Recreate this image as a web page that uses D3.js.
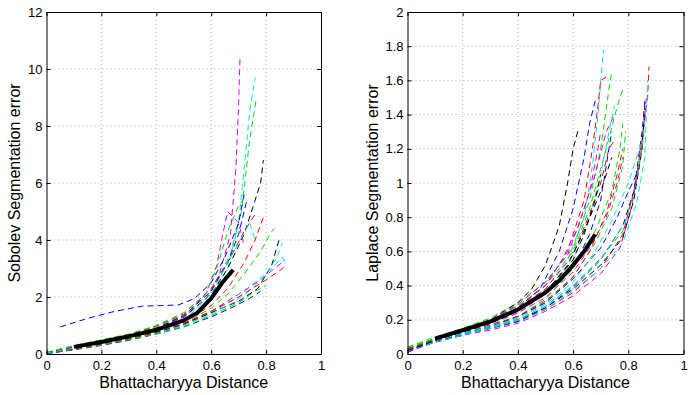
<!DOCTYPE html>
<html>
<head>
<meta charset="utf-8">
<script src="https://cdn.jsdelivr.net/npm/d3@7"></script>
<style>
  body { margin: 0; background: #fff; }
  text { font-family: "Liberation Sans", Arial, sans-serif; fill: #000; }
</style>
</head>
<body>
<div id="chart"></div>
<script>
// MATLAB-ish line colours, one letter per run
const palette = {b: "#0000ff", g: "#00dd00", r: "#ff0000", c: "#00e5e5", m: "#e000e0", k: "#000000"};

const xTicks = [0, 0.2, 0.4, 0.6, 0.8, 1];
const sobolevTicks = [0, 2, 4, 6, 8, 10, 12];
const laplaceTicks = [0, 0.2, 0.4, 0.6, 0.8, 1, 1.2, 1.4, 1.6, 1.8, 2];

// Sobolev runs: [x, y] pairs
const sobolevColors = ["m","c","g","k","b","r","m","g","c","g","m","k","c","b","r","g","r","b","c"];
const sobolevRuns = [
  [[0,0.03],[0.1,0.22],[0.2,0.42],[0.3,0.63],[0.4,0.9],[0.5,1.3],[0.58,1.9],[0.63,2.8],[0.67,4.2],[0.69,6.5],[0.7,8.8],[0.705,10.4]],
  [[0,0.02],[0.1,0.2],[0.2,0.38],[0.3,0.58],[0.4,0.82],[0.5,1.2],[0.6,2.0],[0.66,3.0],[0.7,4.6],[0.72,6.5],[0.74,8.5],[0.76,9.7]],
  [[0,0.05],[0.1,0.28],[0.2,0.48],[0.3,0.68],[0.4,0.95],[0.5,1.35],[0.6,2.2],[0.67,3.5],[0.71,5],[0.74,7.5],[0.765,9.0]],
  [[0,0.02],[0.1,0.24],[0.2,0.44],[0.3,0.64],[0.4,0.9],[0.5,1.3],[0.6,2.1],[0.66,3.0],[0.72,4.2],[0.76,5.4],[0.78,6.0],[0.79,6.8]],
  [[0.05,0.95],[0.15,1.25],[0.25,1.5],[0.35,1.68],[0.42,1.7],[0.48,1.72],[0.54,1.95],[0.6,2.5],[0.65,3.4],[0.7,4.6],[0.72,5.6]],
  [[0,0.04],[0.1,0.25],[0.2,0.45],[0.3,0.68],[0.4,0.98],[0.5,1.4],[0.6,2.3],[0.66,3.2],[0.72,4.3],[0.76,4.9]],
  [[0,0.03],[0.1,0.23],[0.2,0.42],[0.3,0.62],[0.4,0.88],[0.5,1.3],[0.58,2.1],[0.62,3.1],[0.64,4.1],[0.66,5.0],[0.7,4.6],[0.72,3.8]],
  [[0,0.06],[0.1,0.3],[0.2,0.5],[0.3,0.7],[0.4,1.0],[0.5,1.45],[0.58,2.1],[0.62,3.0],[0.66,4.3],[0.7,5.2],[0.73,5.6]],
  [[0,0.01],[0.1,0.15],[0.2,0.32],[0.3,0.5],[0.4,0.72],[0.5,1.0],[0.6,1.45],[0.7,2.0],[0.77,2.6],[0.82,3.0],[0.86,3.4],[0.87,3.1]],
  [[0,0.02],[0.1,0.18],[0.2,0.36],[0.3,0.55],[0.4,0.78],[0.5,1.1],[0.6,1.6],[0.66,2.1],[0.72,2.8],[0.78,3.6],[0.82,4.3],[0.83,4.4]],
  [[0,0.01],[0.1,0.16],[0.2,0.34],[0.3,0.52],[0.4,0.75],[0.5,1.05],[0.6,1.5],[0.7,2.1],[0.78,2.6],[0.83,3.0],[0.87,3.3]],
  [[0,0.02],[0.1,0.17],[0.2,0.35],[0.3,0.53],[0.4,0.76],[0.5,1.05],[0.6,1.45],[0.7,1.85],[0.77,2.3],[0.82,3.1],[0.85,4.1]],
  [[0,0.02],[0.1,0.16],[0.2,0.33],[0.3,0.5],[0.4,0.72],[0.5,1.0],[0.6,1.4],[0.68,1.8],[0.75,2.3],[0.8,2.8],[0.84,3.4],[0.86,3.9]],
  [[0,0.02],[0.1,0.15],[0.2,0.3],[0.3,0.48],[0.4,0.7],[0.5,0.95],[0.6,1.3],[0.68,1.65],[0.74,1.95],[0.78,2.2]],
  [[0,0.03],[0.1,0.2],[0.2,0.38],[0.3,0.58],[0.4,0.82],[0.5,1.15],[0.6,1.7],[0.66,2.3],[0.72,3.2],[0.76,4.0],[0.79,4.8]],
  [[0,0.02],[0.1,0.16],[0.2,0.32],[0.3,0.5],[0.4,0.7],[0.5,0.95],[0.6,1.35],[0.7,1.8],[0.76,2.2],[0.8,2.4]],
  [[0,0.02],[0.1,0.17],[0.2,0.35],[0.3,0.54],[0.4,0.77],[0.5,1.08],[0.6,1.5],[0.7,2.0],[0.8,2.6],[0.86,3.0],[0.87,3.2]],
  [[0,0.03],[0.1,0.22],[0.2,0.42],[0.3,0.64],[0.4,0.9],[0.5,1.35],[0.6,2.2],[0.66,3.2],[0.7,4.2],[0.72,5.0],[0.73,5.4]],
  [[0,0.03],[0.1,0.21],[0.2,0.4],[0.3,0.6],[0.4,0.85],[0.5,1.25],[0.6,2.1],[0.66,3.2],[0.7,3.9],[0.74,4.6],[0.76,4.0]]
];
const sobolevMean = [[0.1,0.25],[0.2,0.42],[0.3,0.62],[0.4,0.85],[0.5,1.18],[0.55,1.45],[0.6,1.95],[0.64,2.5],[0.68,2.95]];

// Laplace runs
const laplaceColors = ["c","r","g","k","b","g","m","c","r","r","m","k","g","c","b","g","m","b","k","c","m","g","b","r","c","k"];
const laplaceRuns = [
  [[0,0.02],[0.1,0.08],[0.2,0.13],[0.3,0.18],[0.4,0.26],[0.5,0.38],[0.58,0.55],[0.64,0.8],[0.67,1.1],[0.69,1.4],[0.71,1.78]],
  [[0,0.03],[0.1,0.09],[0.2,0.14],[0.3,0.2],[0.4,0.28],[0.5,0.4],[0.58,0.6],[0.64,0.9],[0.67,1.2],[0.69,1.45],[0.7,1.6],[0.72,1.62]],
  [[0,0.04],[0.1,0.1],[0.2,0.15],[0.3,0.21],[0.4,0.3],[0.5,0.42],[0.6,0.62],[0.66,0.9],[0.7,1.2],[0.73,1.55],[0.74,1.65]],
  [[0,0.02],[0.1,0.08],[0.2,0.14],[0.3,0.2],[0.4,0.3],[0.45,0.38],[0.5,0.52],[0.55,0.75],[0.58,1.0],[0.6,1.2],[0.62,1.32]],
  [[0,0.01],[0.1,0.08],[0.2,0.13],[0.3,0.18],[0.4,0.27],[0.48,0.38],[0.55,0.6],[0.6,0.85],[0.64,1.15],[0.66,1.35],[0.68,1.48]],
  [[0,0.03],[0.1,0.09],[0.2,0.14],[0.3,0.2],[0.4,0.28],[0.5,0.4],[0.6,0.6],[0.66,0.85],[0.72,1.2],[0.76,1.45],[0.78,1.55]],
  [[0,0.02],[0.1,0.09],[0.2,0.14],[0.3,0.2],[0.4,0.29],[0.5,0.42],[0.58,0.58],[0.63,0.8],[0.68,1.05],[0.72,1.3],[0.75,1.4]],
  [[0,0.03],[0.1,0.08],[0.2,0.12],[0.3,0.17],[0.4,0.24],[0.5,0.35],[0.6,0.55],[0.66,0.8],[0.7,1.05],[0.73,1.3],[0.75,1.45]],
  [[0,0.02],[0.1,0.08],[0.2,0.13],[0.3,0.19],[0.4,0.27],[0.5,0.38],[0.6,0.58],[0.66,0.82],[0.7,1.0],[0.73,1.2],[0.75,1.25]],
  [[0,0.02],[0.1,0.07],[0.2,0.11],[0.3,0.15],[0.4,0.19],[0.5,0.26],[0.6,0.36],[0.7,0.5],[0.78,0.7],[0.82,0.95],[0.85,1.25],[0.87,1.5],[0.875,1.68]],
  [[0,0.01],[0.1,0.07],[0.2,0.11],[0.3,0.14],[0.4,0.18],[0.5,0.25],[0.6,0.34],[0.7,0.47],[0.77,0.62],[0.81,0.85],[0.84,1.1],[0.86,1.4],[0.865,1.5]],
  [[0,0.02],[0.1,0.07],[0.2,0.12],[0.3,0.16],[0.4,0.2],[0.5,0.27],[0.6,0.38],[0.7,0.52],[0.78,0.68],[0.82,0.9],[0.85,1.2],[0.86,1.45]],
  [[0,0.04],[0.1,0.09],[0.2,0.13],[0.3,0.16],[0.4,0.2],[0.5,0.28],[0.6,0.4],[0.7,0.56],[0.78,0.72],[0.82,0.95],[0.85,1.2],[0.86,1.35]],
  [[0,0.03],[0.1,0.08],[0.2,0.12],[0.3,0.15],[0.4,0.19],[0.5,0.26],[0.6,0.37],[0.7,0.5],[0.78,0.65],[0.83,0.88],[0.86,1.15],[0.87,1.6]],
  [[0,0.02],[0.1,0.07],[0.2,0.11],[0.3,0.15],[0.4,0.19],[0.5,0.27],[0.6,0.39],[0.7,0.55],[0.78,0.75],[0.82,0.95],[0.85,1.3],[0.86,1.48]],
  [[0,0.03],[0.1,0.08],[0.2,0.12],[0.3,0.16],[0.4,0.21],[0.5,0.3],[0.6,0.45],[0.68,0.65],[0.74,0.85],[0.78,1.1],[0.79,1.3]],
  [[0,0.02],[0.1,0.08],[0.2,0.13],[0.3,0.18],[0.4,0.24],[0.5,0.33],[0.6,0.48],[0.66,0.62],[0.72,0.8],[0.76,1.0],[0.78,1.15]],
  [[0,0.02],[0.1,0.08],[0.2,0.13],[0.3,0.18],[0.4,0.25],[0.5,0.35],[0.6,0.5],[0.66,0.7],[0.7,0.9],[0.72,1.1],[0.74,1.3]],
  [[0,0.03],[0.1,0.08],[0.2,0.13],[0.3,0.19],[0.4,0.26],[0.5,0.36],[0.6,0.55],[0.64,0.7],[0.68,0.9],[0.7,1.05]],
  [[0,0.02],[0.1,0.07],[0.2,0.11],[0.3,0.15],[0.4,0.2],[0.5,0.28],[0.6,0.4],[0.7,0.55],[0.76,0.7],[0.8,0.8]],
  [[0,0.02],[0.1,0.08],[0.2,0.13],[0.3,0.19],[0.4,0.27],[0.5,0.4],[0.56,0.55],[0.62,0.75],[0.66,0.95],[0.69,1.2],[0.7,1.3]],
  [[0,0.03],[0.1,0.08],[0.2,0.12],[0.3,0.16],[0.4,0.22],[0.5,0.32],[0.6,0.5],[0.68,0.72],[0.74,0.95],[0.77,1.2],[0.78,1.35]],
  [[0,0.02],[0.1,0.08],[0.2,0.12],[0.3,0.16],[0.4,0.22],[0.5,0.3],[0.6,0.44],[0.7,0.62],[0.76,0.8],[0.8,0.95],[0.83,1.05]],
  [[0,0.03],[0.1,0.08],[0.2,0.13],[0.3,0.17],[0.4,0.22],[0.5,0.31],[0.6,0.45],[0.66,0.6],[0.72,0.82],[0.76,1.05],[0.78,1.2]],
  [[0,0.02],[0.1,0.08],[0.2,0.12],[0.3,0.16],[0.4,0.21],[0.5,0.29],[0.6,0.42],[0.68,0.6],[0.74,0.78],[0.8,1.0],[0.84,1.2],[0.85,1.25]],
  [[0,0.02],[0.1,0.08],[0.2,0.13],[0.3,0.18],[0.4,0.25],[0.5,0.36],[0.58,0.52],[0.64,0.72],[0.7,0.95],[0.74,1.15]]
];
const laplaceMean = [[0.1,0.09],[0.2,0.14],[0.3,0.19],[0.4,0.26],[0.5,0.36],[0.55,0.43],[0.6,0.52],[0.64,0.6],[0.66,0.65],[0.68,0.7]];

const W = 692, H = 395;
const svg = d3.select("#chart").append("svg")
  .attr("width", W).attr("height", H);

function panel(left, right, yMax, yTicks, yTitle, titleGap, runs, colors, mean) {
  const top = 12, bottom = 354;
  const x = d3.scaleLinear().domain([0, 1]).range([left, right]);
  const y = d3.scaleLinear().domain([0, yMax]).range([bottom, top]);
  const g = svg.append("g");

  // dotted grid
  g.selectAll(".gx").data(xTicks.slice(1, -1)).enter().append("line")
    .attr("x1", d => x(d)).attr("x2", d => x(d))
    .attr("y1", top).attr("y2", bottom)
    .attr("stroke", "#b0b0b0").attr("stroke-dasharray", "1,3");
  g.selectAll(".gy").data(yTicks.slice(1, -1)).enter().append("line")
    .attr("x1", left).attr("x2", right)
    .attr("y1", d => y(d)).attr("y2", d => y(d))
    .attr("stroke", "#b0b0b0").attr("stroke-dasharray", "1,3");

  const line = d3.line().x(d => x(d[0])).y(d => y(d[1]));
  const clip = "clip" + Math.round(left);
  svg.append("clipPath").attr("id", clip).append("rect")
    .attr("x", left).attr("y", top).attr("width", right - left).attr("height", bottom - top);

  g.append("g").attr("clip-path", "url(#" + clip + ")")
    .selectAll("path").data(runs).enter().append("path")
    .attr("d", line)
    .attr("fill", "none")
    .attr("stroke", (d, i) => palette[colors[i]])
    .attr("stroke-width", 1)
    .attr("stroke-dasharray", "6,4");

  g.append("path").datum(mean)
    .attr("d", line)
    .attr("fill", "none").attr("stroke", "#000")
    .attr("stroke-width", 4).attr("stroke-linejoin", "round");

  // axes, matlab style box with inward ticks
  g.append("g").attr("transform", "translate(0," + bottom + ")")
    .call(d3.axisBottom(x).tickValues(xTicks).tickSizeInner(-4).tickSizeOuter(0).tickPadding(7).tickFormat(d3.format("")));
  g.append("g").attr("transform", "translate(" + left + ",0)")
    .call(d3.axisLeft(y).tickValues(yTicks).tickSizeInner(-4).tickSizeOuter(0).tickPadding(4).tickFormat(d3.format("")));
  g.append("g").attr("transform", "translate(0," + top + ")")
    .call(d3.axisTop(x).tickValues(xTicks).tickSizeInner(-4).tickSizeOuter(0).tickFormat(""));
  g.append("g").attr("transform", "translate(" + right + ",0)")
    .call(d3.axisRight(y).tickValues(yTicks).tickSizeInner(-4).tickSizeOuter(0).tickFormat(""));
  g.selectAll(".domain").attr("stroke", "#000");
  g.selectAll(".tick text").attr("font-size", 13).attr("font-family", "Liberation Sans, Arial, sans-serif");

  g.append("text")
    .attr("x", (left + right) / 2).attr("y", 388)
    .attr("text-anchor", "middle").attr("font-size", 16)
    .text("Bhattacharyya Distance");
  g.append("text")
    .attr("transform", "translate(" + (left - titleGap) + "," + ((top + bottom) / 2) + ") rotate(-90)")
    .attr("text-anchor", "middle").attr("font-size", 16)
    .text(yTitle);
}

panel(46.5, 321, 12, sobolevTicks, "Sobolev Segmentation error", 27, sobolevRuns, sobolevColors, sobolevMean);
panel(407.5, 683.5, 2, laplaceTicks, "Laplace Segmentation error", 29.5, laplaceRuns, laplaceColors, laplaceMean);
</script>
</body>
</html>
